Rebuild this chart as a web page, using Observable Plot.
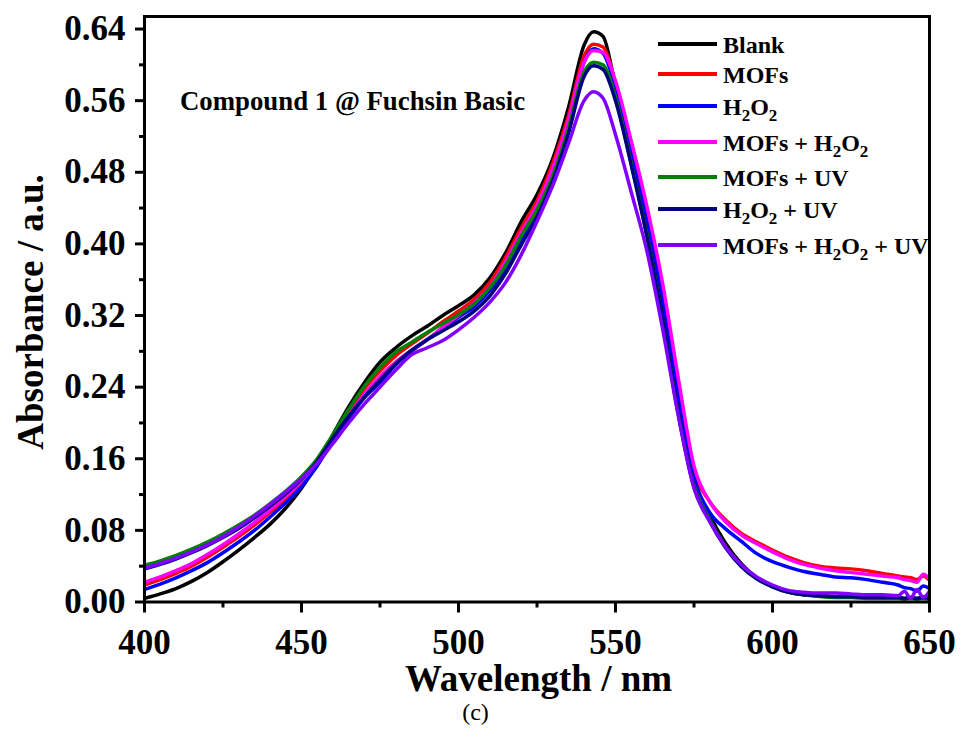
<!DOCTYPE html>
<html><head><meta charset="utf-8">
<script src="https://cdn.jsdelivr.net/npm/d3@7"></script>
<script src="https://cdn.jsdelivr.net/npm/@observablehq/plot@0.6"></script>
<style>body{margin:0;background:#fff} svg{display:block}</style>
</head><body><div id="chart"></div>
<script>
const wavelength = [400,405,410,415,420,425,430,435,440,445,450,455,460,465,470,475,480,485,490,495,500,505,510,515,520,525,530,535,540,543,546,550,555,560,565,570,575,580,585,590,595,600,605,610,615,620,625,630,635,640,642,644,646,648,650];
const blank = [.004,.009,.015,.023,.033,.045,.058,.072,.087,.105,.127,.155,.187,.218,.245,.268,.284,.297,.308,.320,.331,.343,.362,.390,.425,.455,.495,.552,.622,.637,.632,.576,.500,.425,.335,.222,.136,.097,.066,.043,.027,.018,.011,.008,.007,.006,.006,.005,.005,.005,.004,.005,.004,.006,.004];
const mofs = [.019,.025,.032,.040,.050,.061,.073,.086,.100,.115,.132,.156,.184,.212,.238,.258,.275,.288,.300,.313,.325,.338,.357,.385,.418,.448,.490,.543,.610,.623,.620,.580,.510,.435,.350,.245,.148,.112,.092,.077,.067,.058,.050,.044,.040,.038,.037,.035,.032,.029,.028,.027,.025,.029,.024];
const h2o2 = [.014,.020,.027,.035,.044,.055,.067,.080,.095,.111,.129,.152,.180,.205,.228,.245,.265,.280,.293,.305,.318,.330,.348,.372,.405,.437,.478,.533,.603,.618,.613,.575,.505,.430,.340,.235,.140,.100,.082,.068,.054,.045,.039,.034,.031,.028,.027,.025,.022,.019,.016,.015,.012,.018,.015];
const mofsH2o2 = [.022,.028,.035,.043,.053,.064,.076,.089,.103,.118,.135,.157,.183,.208,.232,.252,.268,.281,.293,.307,.320,.334,.352,.380,.413,.443,.484,.538,.603,.616,.614,.582,.515,.442,.356,.250,.152,.112,.090,.075,.065,.056,.048,.042,.038,.035,.033,.031,.029,.027,.025,.024,.022,.031,.026];
const mofsUv = [.041,.046,.052,.059,.067,.076,.086,.097,.110,.124,.140,.160,.187,.215,.241,.262,.279,.290,.301,.311,.321,.333,.351,.376,.409,.438,.476,.529,.592,.603,.600,.564,.490,.410,.315,.210,.130,.092,.062,.040,.026,.017,.011,.008,.006,.005,.005,.004,.004,.004,.003,.004,.003,.004,.003];
const h2o2Uv = [.037,.042,.048,.055,.063,.072,.082,.094,.107,.121,.137,.157,.183,.207,.229,.248,.266,.281,.293,.303,.313,.325,.342,.367,.399,.430,.470,.523,.587,.599,.595,.560,.488,.408,.315,.210,.128,.090,.061,.040,.026,.017,.011,.008,.007,.006,.006,.005,.005,.005,.004,.005,.004,.005,.004];
const mofsH2o2Uv = [.038,.043,.049,.056,.064,.073,.084,.096,.109,.123,.138,.155,.177,.200,.221,.240,.259,.276,.284,.292,.304,.318,.335,.357,.388,.425,.465,.512,.560,.570,.563,.522,.458,.392,.305,.208,.127,.090,.062,.042,.028,.019,.013,.011,.010,.010,.009,.008,.008,.007,.012,.004,.014,.005,.012];

const seriesNames = ["Blank","MOFs","H2O2","MOFs + H2O2","MOFs + UV","H2O2 + UV","MOFs + H2O2 + UV"];
const seriesValues = [blank, mofs, h2o2, mofsH2o2, mofsUv, h2o2Uv, mofsH2o2Uv];
const seriesColors = ["#000000","#ff0000","#0000ff","#ff00ff","#008000","#000080","#8000ff"];
const xTicks = [400,450,500,550,600,650];
const xMinorTicks = [425,475,525,575,625];
const yTicks = [0,0.08,0.16,0.24,0.32,0.40,0.48,0.56,0.64];
const yMinorTicks = [0.04,0.12,0.20,0.28,0.36,0.44,0.52,0.60];
const titleText = "Compound 1 @ Fuchsin Basic";
const xLabel = "Wavelength / nm";
const yLabel = "Absorbance / a.u.";
const caption = "(c)";

const rows = [];
seriesValues.forEach((vals, i) => vals.forEach((v, j) => rows.push({series: seriesNames[i], wl: wavelength[j], a: v})));

const serif = "'Liberation Serif', 'Times New Roman', serif";
const plot = Plot.plot({
  width: 963, height: 747,
  marginLeft: 144, marginRight: 34, marginTop: 16, marginBottom: 145.5,
  style: {fontFamily: serif, fontWeight: "bold", background: "#fff", color: "#000"},
  x: {domain: [400, 650], label: null},
  y: {domain: [0, 0.654], label: null},
  color: {domain: seriesNames, range: seriesColors},
  marks: [
    Plot.line(rows, {x: "wl", y: "a", z: "series", stroke: "series", strokeWidth: 3.5, strokeLinejoin: "round", curve: "monotone-x", clip: true}),
    Plot.frame({stroke: "#000", strokeWidth: 3}),
    Plot.axisX({ticks: xTicks, tickSize: 11, tickPadding: 16, fontSize: 35, strokeWidth: 3, tickFormat: d => String(d), label: null}),
    Plot.axisX({ticks: xMinorTicks, tickSize: 6, strokeWidth: 3, tickFormat: () => "", label: null}),
    Plot.axisY({ticks: yTicks, tickSize: 9, tickPadding: 10, fontSize: 35, strokeWidth: 3, tickFormat: d3.format(".2f"), label: null}),
    Plot.axisY({ticks: yMinorTicks, tickSize: 5, strokeWidth: 3, tickFormat: () => "", label: null})
  ]
});
document.getElementById("chart").appendChild(plot);

const svg = d3.select(plot);
svg.append("defs").append("clipPath").attr("id", "lgclip")
  .append("rect").attr("x", 0).attr("y", 0).attr("width", 928).attr("height", 747);

// legend
const legendY = [44, 74, 106, 142, 177, 209, 245];
const lg = svg.append("g").attr("clip-path", "url(#lgclip)")
  .attr("font-family", serif).attr("font-weight", "bold").attr("font-size", 24)
  .attr("fill", "#000").attr("text-anchor", "start");
seriesNames.forEach((name, i) => {
  lg.append("line").attr("x1", 658).attr("x2", 717).attr("y1", legendY[i]).attr("y2", legendY[i])
    .attr("stroke", seriesColors[i]).attr("stroke-width", 4);
  const t = lg.append("text").attr("x", 723).attr("y", legendY[i] + 8.5).attr("text-anchor", "start");
  const parts = name.split(/(\d)/).filter(s => s.length);
  let sub = false;
  parts.forEach(p => {
    const isDigit = /^\d$/.test(p);
    const ts = t.append("tspan").text(p);
    if (isDigit) { ts.attr("font-size", 17).attr("dy", 6); sub = true; }
    else if (sub) { ts.attr("dy", -6); sub = false; }
  });
});

svg.append("text").attr("x", 180).attr("y", 110).attr("text-anchor", "start")
  .attr("font-family", serif).attr("font-weight", "bold").attr("font-size", 26.8).text(titleText);
svg.append("text").attr("x", 538.5).attr("y", 691).attr("text-anchor", "middle")
  .attr("font-family", serif).attr("font-weight", "bold").attr("font-size", 37).text(xLabel);
svg.append("text").attr("transform", "translate(43,312) rotate(-90)").attr("text-anchor", "middle")
  .attr("font-family", serif).attr("font-weight", "bold").attr("font-size", 37).text(yLabel);
svg.append("text").attr("x", 475.5).attr("y", 720).attr("text-anchor", "middle")
  .attr("font-family", serif).attr("font-weight", "normal").attr("font-size", 24).text(caption);
</script>
</body></html>
